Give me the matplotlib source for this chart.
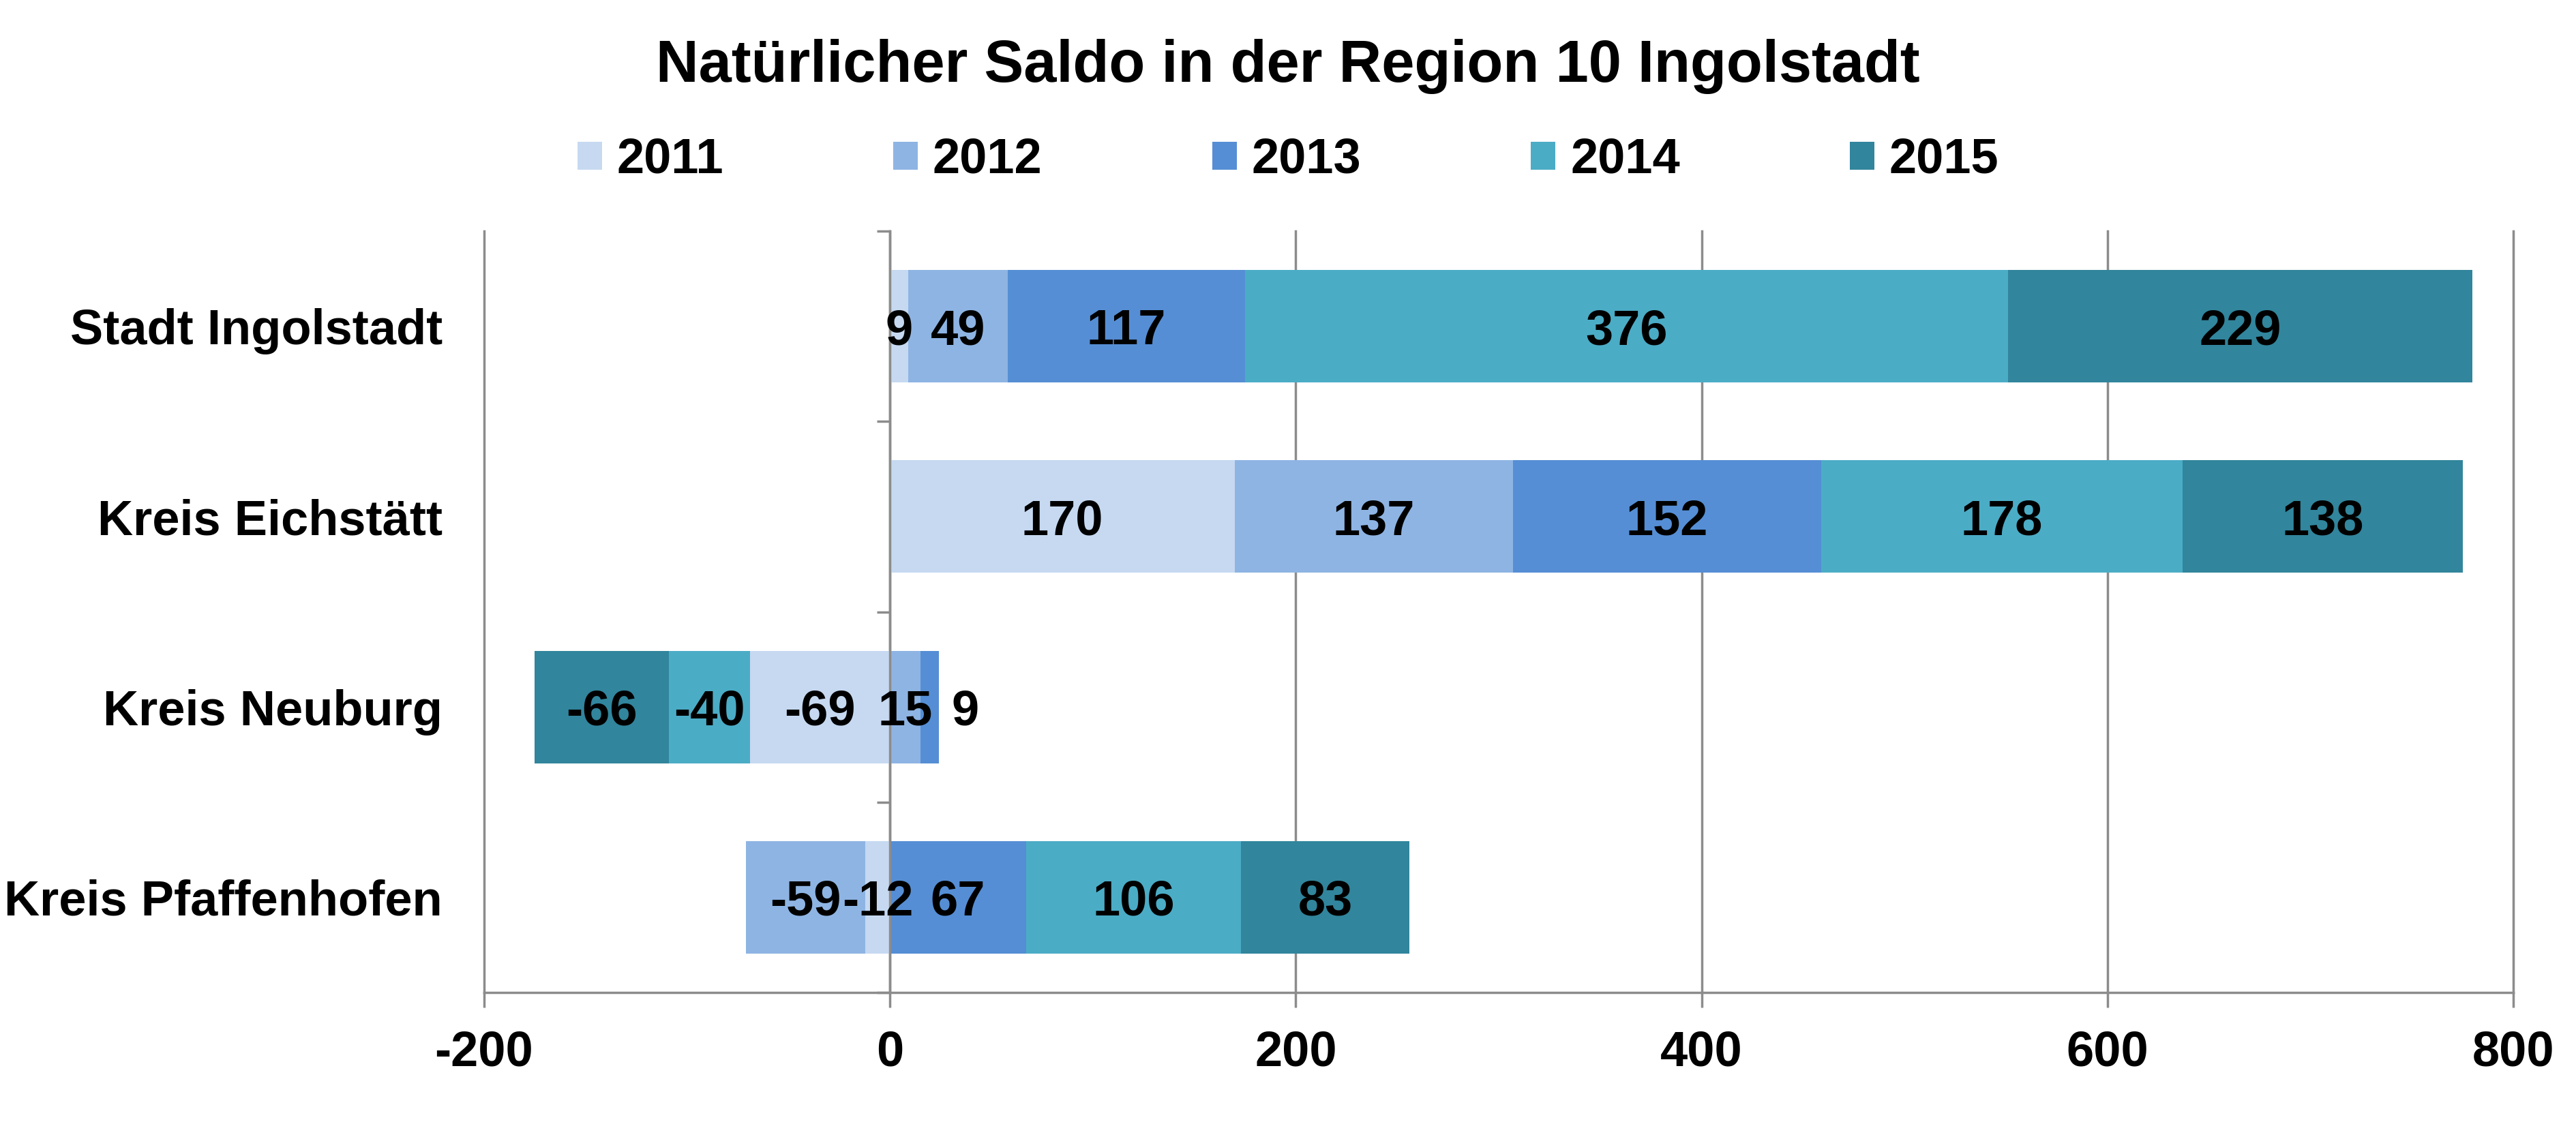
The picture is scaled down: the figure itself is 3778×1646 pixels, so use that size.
import matplotlib.pyplot as plt
import matplotlib.transforms as mtransforms
import numpy as np
from matplotlib.patches import Patch

plt.rcParams["font.family"] = ["Liberation Sans", "DejaVu Sans"]
plt.rcParams["font.weight"] = "bold"

# Daten
categories = ["Stadt Ingolstadt", "Kreis Eichstätt", "Kreis Neuburg", "Kreis Pfaffenhofen"]
years = ["2011", "2012", "2013", "2014", "2015"]
saldo_2011 = [9, 170, -69, -12]
saldo_2012 = [49, 137, 15, -59]
saldo_2013 = [117, 152, 9, 67]
saldo_2014 = [376, 178, -40, 106]
saldo_2015 = [229, 138, -66, 83]
x_ticks = [-200, 0, 200, 400, 600, 800]

colors = ["#C6D9F1", "#8EB4E3", "#558ED5", "#4BACC6", "#31859C"]
grey = "#8C8C8C"
# Excel hat das Label "9" (Neuburg 2013) etwas nach rechts geschoben
label_shift = {(2, 2): 17.5}

series = [saldo_2011, saldo_2012, saldo_2013, saldo_2014, saldo_2015]

fig = plt.figure(figsize=(37.78, 16.46), dpi=100)
ax = fig.add_axes([710 / 3778, 1 - 1456 / 1646, 2976 / 3778, 1117 / 1646])

y = np.arange(len(categories))[::-1]
pos_base = np.zeros(len(categories))
neg_base = np.zeros(len(categories))

for s, (vals, col) in enumerate(zip(series, colors)):
    vals = np.array(vals, dtype=float)
    left = np.where(vals >= 0, pos_base, neg_base)
    ax.barh(y, vals, left=left, height=0.59, color=col, edgecolor="none", zorder=1)
    for i, v in enumerate(vals):
        cx = left[i] + v / 2 + label_shift.get((i, s), 0)
        ax.text(cx, y[i], f"{int(v)}", ha="center", va="center_baseline",
                fontsize=52, fontweight="bold", color="black", zorder=4)
    pos_base = np.where(vals >= 0, pos_base + vals, pos_base)
    neg_base = np.where(vals < 0, neg_base + vals, neg_base)

ax.set_xlim(-200, 800)
ax.set_ylim(-0.5, len(categories) - 0.5)

# Achsen
lw = 2.5
ax.spines["top"].set_visible(False)
ax.spines["right"].set_visible(False)
ax.spines["left"].set_position(("data", 0))
ax.spines["left"].set_color(grey)
ax.spines["left"].set_linewidth(lw)
ax.spines["left"].set_zorder(3)
ax.spines["bottom"].set_color(grey)
ax.spines["bottom"].set_linewidth(lw)

ax.set_xticks(x_ticks)
ax.set_xticklabels([str(t) for t in x_ticks])
ax.tick_params(axis="x", length=15.5, width=lw, color=grey, pad=24, labelsize=52)
ax.set_yticks([])
ax.set_yticks(np.arange(len(categories) + 1) - 0.5, minor=True)
ax.tick_params(axis="y", which="minor", length=14, width=lw, color=grey, direction="out")

ax.grid(axis="x", color=grey, linewidth=lw)
ax.set_axisbelow(True)
for gl in ax.get_xgridlines():
    gl.set_clip_on(False)

trans = mtransforms.blended_transform_factory(ax.transAxes, ax.transData)
for yi, cat in zip(y, categories):
    ax.text(-61 / 2976, yi, cat, transform=trans, ha="right", va="center_baseline",
            fontsize=52, fontweight="bold")

fig.text(0.5, 1 - 88 / 1646, "Natürlicher Saldo in der Region 10 Ingolstadt",
         ha="center", va="center_baseline", fontsize=62.5, fontweight="bold")

handles = [Patch(facecolor=c, edgecolor="none", label=yr) for c, yr in zip(colors, years)]
fig.legend(handles=handles, loc="center", bbox_to_anchor=(0.5, 1 - 235 / 1646), ncol=5,
           frameon=False, prop={"size": 52, "weight": "bold"}, handlelength=0.5,
           handleheight=0.5, handletextpad=0.3, columnspacing=3.45)

fig.savefig("out.png", dpi=100, facecolor="white")
